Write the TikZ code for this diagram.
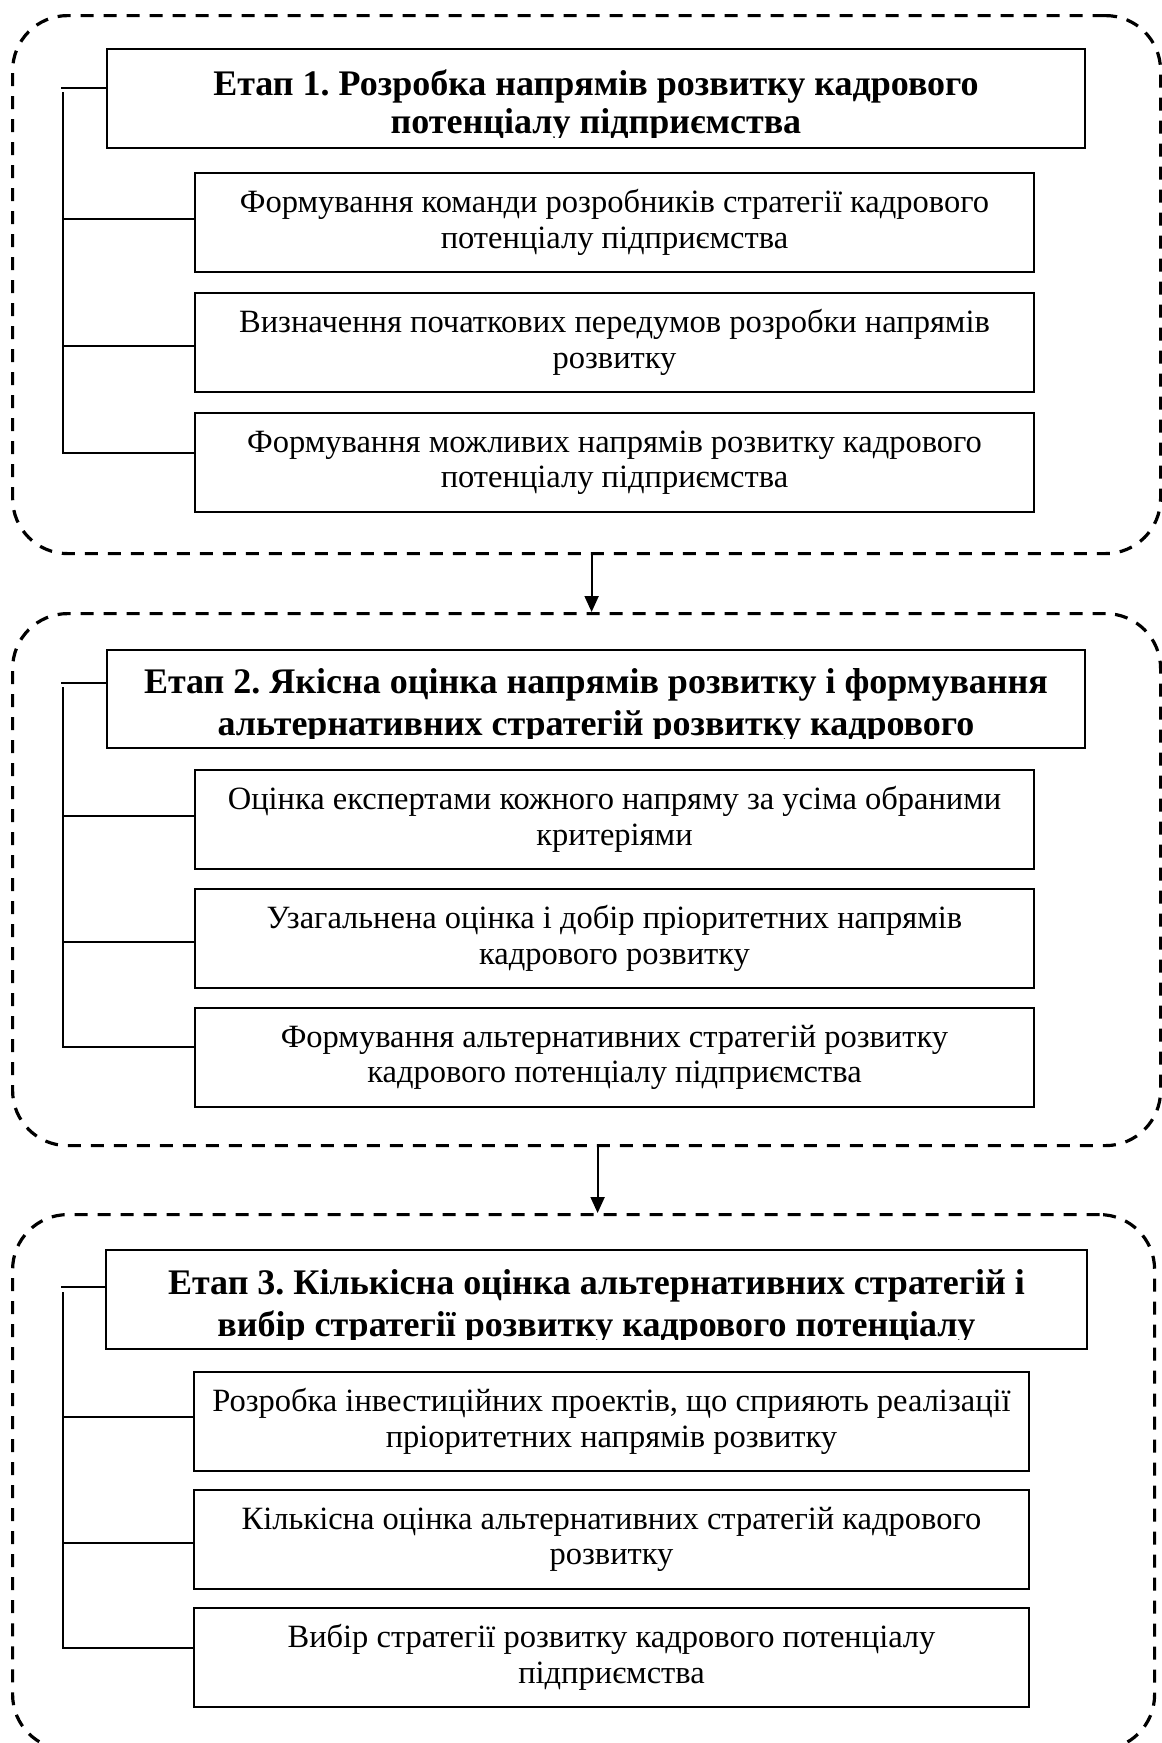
\documentclass[tikz,border=0pt]{standalone}
\usepackage{fontspec}
\setmainfont{Liberation Serif}
\usetikzlibrary{arrows.meta}
\frenchspacing
\begin{document}
\begin{tikzpicture}[x=1pt,y=-1pt,
  frame/.style={draw, line width=3.2pt, dash pattern=on 13pt off 10pt, rounded corners=55pt, rectangle, anchor=north west, inner sep=0pt},
  titlebox/.style={draw, line width=2pt, rectangle, anchor=north west, inner sep=0pt},
  subbox/.style={draw, line width=2pt, rectangle, anchor=north west, inner sep=0pt, align=center, font=\fontsize{32.5}{35.5}\selectfont},
  titletext/.style={anchor=north, inner sep=0pt, align=center},
  conn/.style={line width=2pt},
  arr/.style={line width=2pt, -{Triangle[length=16pt,width=14pt]}}
]
\useasboundingbox (0,0) rectangle (1162,1743);

% ---------- Stage 1 ----------
\node[frame, minimum width=1148pt, minimum height=538pt] (f1) at (11,14) {};
\node[titlebox, minimum width=978pt, minimum height=99pt] (t1) at (106,48) {};
\begin{scope}
  \clip (t1.north west) rectangle ([yshift=12pt]t1.south east);
  \node[titletext, font=\bfseries\fontsize{36}{38}\selectfont] (t1txt) at ([yshift=-22pt]t1.north)
    {Етап 1. Розробка напрямів розвитку кадрового\\потенціалу підприємства};
\end{scope}
\node[subbox, minimum width=839pt, minimum height=99pt] (s11) at (194,172)
  {Формування команди розробників стратегії кадрового\\потенціалу підприємства};
\node[subbox, minimum width=839pt, minimum height=99pt] (s12) at (194,292)
  {Визначення початкових передумов розробки напрямів\\розвитку};
\node[subbox, minimum width=839pt, minimum height=99pt] (s13) at (194,412)
  {Формування можливих напрямів розвитку кадрового\\потенціалу підприємства};
\coordinate (h1) at (61,88);
\coordinate (sp1) at (63,92);
\draw[conn] (h1) -- (h1 -| t1.west);
\draw[conn] ([yshift=3.5pt]s11.west) -| (sp1);
\draw[conn] ([yshift=-3.5pt]s12.west) -| (sp1);
\draw[conn] ([yshift=9.5pt]s13.west) -| (sp1);

% ---------- Stage 2 ----------
\node[frame, minimum width=1148pt, minimum height=532pt] (f2) at (11,612) {};
\node[titlebox, minimum width=978pt, minimum height=98pt] (t2) at (106,649) {};
\begin{scope}
  \clip (t2.north west) rectangle ([yshift=11pt]t2.south east);
  \node[titletext, font=\bfseries\fontsize{36}{42}\selectfont] (t2txt) at ([yshift=-19pt]t2.north)
    {Етап 2. Якісна оцінка напрямів розвитку і формування\\альтернативних стратегій розвитку кадрового};
\end{scope}
\node[subbox, minimum width=839pt, minimum height=99pt] (s21) at (194,769)
  {Оцінка експертами кожного напряму за усіма обраними\\критеріями};
\node[subbox, minimum width=839pt, minimum height=99pt] (s22) at (194,888)
  {Узагальнена оцінка і добір пріоритетних напрямів\\кадрового розвитку};
\node[subbox, minimum width=839pt, minimum height=99pt] (s23) at (194,1007)
  {Формування альтернативних стратегій розвитку\\кадрового потенціалу підприємства};
\coordinate (h2) at (61,683);
\coordinate (sp2) at (63,687);
\draw[conn] (h2) -- (h2 -| t2.west);
\draw[conn] ([yshift=3.5pt]s21.west) -| (sp2);
\draw[conn] ([yshift=-3.5pt]s22.west) -| (sp2);
\draw[conn] ([yshift=10.5pt]s23.west) -| (sp2);

% ---------- Stage 3 ----------
\node[frame, minimum width=1142pt, minimum height=535pt] (f3) at (11,1213) {};
\node[titlebox, minimum width=981pt, minimum height=99pt] (t3) at (105,1249) {};
\begin{scope}
  \clip (t3.north west) rectangle ([yshift=11pt]t3.south east);
  \node[titletext, font=\bfseries\fontsize{36}{42}\selectfont] (t3txt) at ([yshift=-20pt]t3.north)
    {Етап 3. Кількісна оцінка альтернативних стратегій і\\вибір стратегії розвитку кадрового потенціалу};
\end{scope}
\node[subbox, minimum width=835pt, minimum height=99pt] (s31) at (193,1371)
  {Розробка інвестиційних проектів, що сприяють реалізації\\пріоритетних напрямів розвитку};
\node[subbox, minimum width=835pt, minimum height=99pt] (s32) at (193,1489)
  {Кількісна оцінка альтернативних стратегій кадрового\\розвитку};
\node[subbox, minimum width=835pt, minimum height=99pt] (s33) at (193,1607)
  {Вибір стратегії розвитку кадрового потенціалу\\підприємства};
\coordinate (h3) at (61,1287);
\coordinate (sp3) at (63,1292);
\draw[conn] (h3) -- (h3 -| t3.west);
\draw[conn] ([yshift=4.5pt]s31.west) -| (sp3);
\draw[conn] ([yshift=-3.5pt]s32.west) -| (sp3);
\draw[conn] ([yshift=9.5pt]s33.west) -| (sp3);

% ---------- Arrows between stages ----------
\coordinate (a1) at ([xshift=5pt]f1.south);
\coordinate (a2) at ([xshift=11pt]f2.south);
\draw[arr] (a1) -- (a1 |- f2.north);
\draw[arr] (a2) -- (a2 |- f3.north);
\end{tikzpicture}
\end{document}
